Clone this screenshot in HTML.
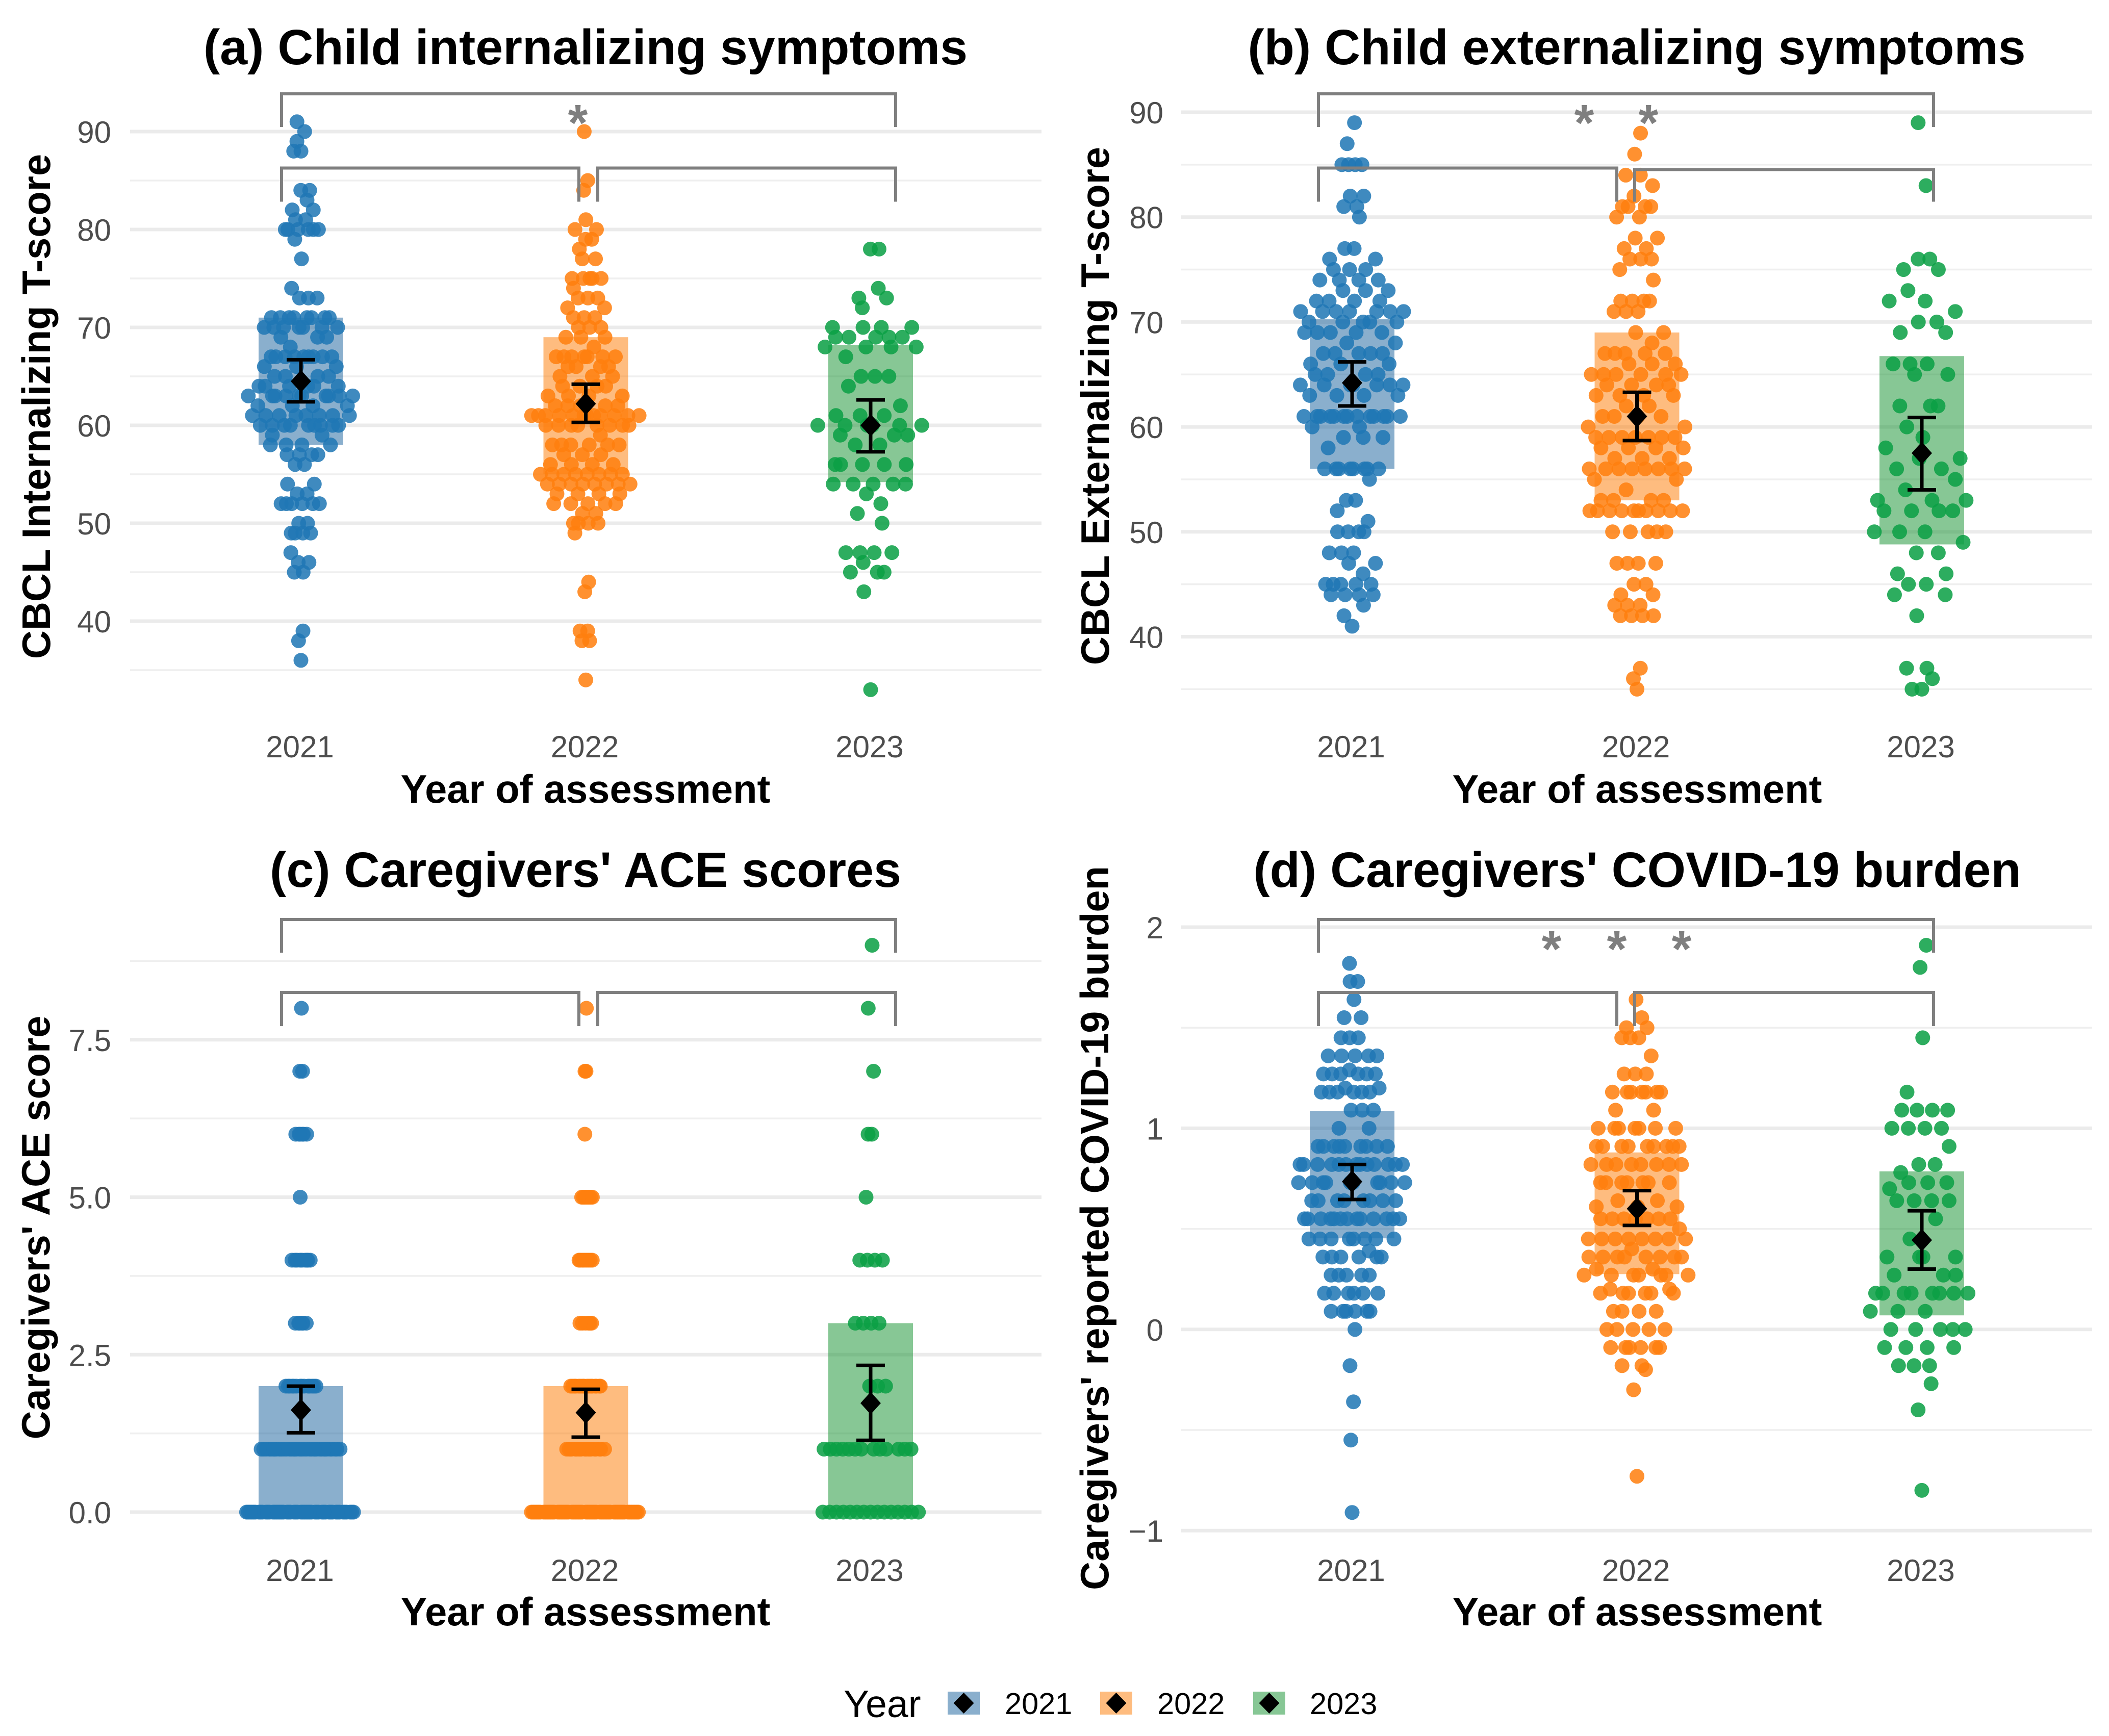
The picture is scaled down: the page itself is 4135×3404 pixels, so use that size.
<!DOCTYPE html>
<html lang="en">
<head>
<meta charset="utf-8">
<title>Child symptoms and caregiver burden by year</title>
<style>
html,body{margin:0;padding:0;background:#fff}
svg{display:block}
text{font-family:"Liberation Sans",Arial,sans-serif}
.title{font-size:97px;font-weight:700;fill:#000;text-anchor:middle}
.axt{font-size:77.6px;font-weight:700;fill:#000;text-anchor:middle}
.tick{font-size:60px;fill:#4d4d4d}
.leg{font-size:59.5px;fill:#000}
</style>
</head>
<body>
<svg id="figure" xmlns="http://www.w3.org/2000/svg" width="4135" height="3404" viewBox="0 0 4135 3404">
  <rect x="0" y="0" width="4135" height="3404" fill="#ffffff"/>
  <g id="panel-a"></g>
  <g id="panel-b"></g>
  <g id="panel-c"></g>
  <g id="panel-d"></g>

  <text class="title" x="1148" y="126">(a) Child internalizing symptoms</text>
  <text class="title" x="3209" y="126">(b) Child externalizing symptoms</text>
  <text class="title" x="1148" y="1739">(c) Caregivers' ACE scores</text>
  <text class="title" x="3210" y="1739">(d) Caregivers' COVID-19 burden</text>

  <text class="axt" x="1148" y="1574">Year of assessment</text>
  <text class="axt" x="3210" y="1574">Year of assessment</text>
  <text class="axt" x="1148" y="3187">Year of assessment</text>
  <text class="axt" x="3210" y="3187">Year of assessment</text>

  <text class="axt" transform="translate(98 797) rotate(-90)">CBCL Internalizing T-score</text>
  <text class="axt" transform="translate(2174 796) rotate(-90)">CBCL Externalizing T-score</text>
  <text class="axt" transform="translate(97 2407) rotate(-90)">Caregivers' ACE score</text>
  <text class="axt" transform="translate(2173 2408) rotate(-90)">Caregivers' reported COVID-19 burden</text>

  <g>
    <text x="1654" y="3367" font-size="75" fill="#000">Year</text>
    <g>
      <rect x="1858" y="3317" width="63" height="45" fill="#155f9b" fill-opacity="0.5"/>
      <polygon points="1889.5,3319 1909.5,3339.5 1889.5,3360 1869.5,3339.5" fill="#000"/>
      <text class="leg" x="1970" y="3361">2021</text>
    </g>
    <g>
      <rect x="2157" y="3317" width="63" height="45" fill="#fd7900" fill-opacity="0.5"/>
      <polygon points="2188.5,3319 2208.5,3339.5 2188.5,3360 2168.5,3339.5" fill="#000"/>
      <text class="leg" x="2269" y="3361">2022</text>
    </g>
    <g>
      <rect x="2457" y="3317" width="63" height="45" fill="#0f8f2b" fill-opacity="0.5"/>
      <polygon points="2488.5,3319 2508.5,3339.5 2488.5,3360 2468.5,3339.5" fill="#000"/>
      <text class="leg" x="2568" y="3361">2023</text>
    </g>
  </g>
</svg>
<script>
// ---------- shared categories ----------
const years = ['2021', '2022', '2023'];

// ---------- panel (a): value levels and how many children sit at each level ----------
const aValues2021 = [91,90,89,88,84,83,82,81,80,79,77,74,73,71,70,69,68,67,66,65,64,63,62,61,60,59,58,57,56,54,53,52,50,49,47,46,45,39,38,36];
const aCounts2021 = [ 1, 1, 1, 2, 2, 1, 2, 2, 6, 1, 1, 1, 3, 8, 7, 3, 1, 9, 3, 4, 6,10, 4, 8, 9, 2, 4, 4, 2, 2, 2, 6, 2, 4, 1, 2, 2, 1, 1, 1];
const aValues2022 = [90,85,84,81,80,79,78,77,75,74,73,72,71,70,69,68,67,66,65,64,63,62,61,60,59,58,57,56,55,54,53,52,51,50,49,44,43,39,38,34];
const aCounts2022 = [ 1, 1, 1, 1, 2, 2, 1, 2, 5, 1, 3, 2, 3, 3, 3, 1, 7, 4, 3, 4, 4, 5,12, 8, 1, 6, 3, 4, 8, 8, 4, 5, 2, 4, 1, 1, 1, 2, 2, 1];
const aValues2023 = [78,74,73,72,70,69,68,67,65,64,62,61,60,59,58,56,54,53,52,51,50,47,46,45,43,33];
const aCounts2023 = [ 2, 1, 2, 1, 4, 5, 4, 1, 3, 1, 1, 3, 6, 3, 2, 5, 5, 1, 1, 1, 1, 4, 1, 3, 1, 1];
const aQ1 = [58, 55, 54.2];
const aQ3 = [71, 69, 68.2];
const aMean = [64.5, 62.2, 60];
const aLow = [62.4, 60.3, 57.3];
const aHigh = [66.7, 64.2, 62.6];
const aMajor = [40, 50, 60, 70, 80, 90];
const aMinor = [35, 45, 55, 65, 75, 85];
const aTickLabels = ['40', '50', '60', '70', '80', '90'];

// ---------- panel (b) ----------
const bValues2021 = [89,87,85,82,81,80,77,76,75,74,73,72,71,70,69,68,67,66,65,64,63,61,60,59,58,56,55,53,52,51,50,48,47,46,45,44,43,42,41];
const bCounts2021 = [ 1, 1, 4, 2, 2, 1, 2, 2, 3, 4, 3, 4, 7, 5, 5, 2, 5, 3, 4, 7, 4,13, 2, 3, 1, 8, 1, 2, 1, 1, 4, 3, 2, 1, 5, 4, 1, 1, 1];
const bValues2022 = [88,86,84,83,82,81,80,78,77,76,75,74,72,71,69,68,67,66,65,64,63,62,61,60,59,58,57,56,55,54,53,52,50,47,45,44,43,42,37,36,35];
const bCounts2022 = [ 1, 1, 2, 1, 1, 4, 2, 2, 2, 3, 1, 1, 4, 3, 2, 1, 5, 3, 6, 4, 4, 2, 4, 2, 7, 4, 3, 8, 2, 1, 4,10, 5, 4, 2, 2, 3, 4, 1, 1, 1];
const bValues2023 = [89,83,76,75,73,72,71,70,69,66,65,62,60,59,58,57,56,55,54,53,52,50,49,48,46,45,44,42,37,36,35];
const bCounts2023 = [ 1, 1, 2, 2, 1, 2, 1, 2, 2, 3, 2, 3, 1, 1, 1, 2, 2, 1, 1, 3, 4, 3, 1, 2, 2, 2, 2, 1, 2, 1, 2];
const bQ1 = [56, 53, 48.8];
const bQ3 = [70.3, 69, 66.75];
const bMean = [64.2, 61, 57.5];
const bLow = [62, 58.7, 54];
const bHigh = [66.2, 63.3, 60.9];
const bMajor = [40, 50, 60, 70, 80, 90];
const bMinor = [35, 45, 55, 65, 75, 85];
const bTickLabels = ['40', '50', '60', '70', '80', '90'];

// ---------- panel (c) ----------
const cValues2021 = [ 8, 7, 6, 5, 4, 3, 2, 1, 0];
const cCounts2021 = [ 1, 2, 6, 1, 9, 6,14,36,50];
const cValues2022 = [ 8, 7, 6, 5, 4, 3, 2, 1, 0];
const cCounts2022 = [ 1, 2, 1, 7, 8, 6,16,19,55];
const cValues2023 = [ 9, 8, 7, 6, 5, 4, 3, 2, 1, 0];
const cCounts2023 = [ 1, 1, 1, 2, 1, 4, 4, 3,13,15];
const cQ1 = [0, 0, 0];
const cQ3 = [2, 2, 3];
const cMean = [1.62, 1.58, 1.73];
const cLow = [1.26, 1.19, 1.14];
const cHigh = [2, 1.95, 2.33];
const cMajor = [0, 2.5, 5, 7.5];
const cMinor = [1.25, 3.75, 6.25, 8.75];
const cTickLabels = ['0.0', '2.5', '5.0', '7.5'];

// ---------- panel (d) ----------
const dValues2021 = [1.82,1.73,1.64,1.55,1.45,1.36,1.29,1.27,1.2,1.18,1.09,1.0,0.91,0.82,0.73,0.64,0.55,0.45,0.39,0.36,0.27,0.18,0.09,0,-0.18,-0.36,-0.55,-0.91];
const dCounts2021 = [   1,   2,   1,   2,   3,   5,   1,   6,  2,   6,   3,  2,   9,  13,  10,   8,  13,   8,   1,   6,   5,   6,   6,1,    1,    1,    1,    1];
const dValues2022 = [1.64,1.55,1.5,1.45,1.36,1.27,1.18,1.09,1.0,0.91,0.82,0.73,0.64,0.61,0.55,0.5,0.45,0.4,0.36,0.3,0.27,0.2,0.18,0.09,0,-0.09,-0.18,-0.2,-0.3,-0.73];
const dCounts2022 = [   1,   1,  2,   3,   1,   3,   7,   2,  7,   9,   8,   7,   2,   3,   7,  1,   8,  1,   8,  2,   7,  2,   6,   4,5,    6,    2,   1,   1,    1];
const dValues2023 = [1.91,1.8,1.45,1.18,1.09,1.0,0.91,0.82,0.78,0.73,0.7,0.64,0.55,0.45,0.36,0.27,0.18,0.09,0,-0.09,-0.18,-0.27,-0.4,-0.8];
const dCounts2023 = [   1,  1,   1,   1,   4,  4,   1,   2,   1,   3,  1,   4,   1,   1,   4,   3,   8,   3,5,    4,    3,    1,   1,   1];
const dQ1 = [0.453, 0.275, 0.07];
const dQ3 = [1.087, 0.88, 0.786];
const dMean = [0.735, 0.6, 0.444];
const dLow = [0.646, 0.517, 0.3];
const dHigh = [0.82, 0.69, 0.59];
const dMajor = [-1, 0, 1, 2];
const dMinor = [-0.5, 0.5, 1.5];
const dTickLabels = ['\u22121', '0', '1', '2'];

// ---------- styling ----------
const dotColors = ['#1f77b4', '#ff7f0e', '#0a9f45'];
const boxColors = ['#155f9b', '#fd7900', '#0f8f2b'];
const SVGNS = 'http://www.w3.org/2000/svg';

function mk(tag, attrs, parent) {
  const el = document.createElementNS(SVGNS, tag);
  for (const k in attrs) el.setAttribute(k, attrs[k]);
  parent.appendChild(el);
  return el;
}

function expand(values, counts) {
  const out = [];
  values.forEach(function (v, i) { for (let n = 0; n < counts[i]; n++) out.push(v); });
  return out.sort(function (p, q) { return p - q; });
}

function vanDerCorput(i) {
  let f = 0.5, r = 0;
  while (i > 0) { r += f * (i % 2); i = Math.floor(i / 2); f /= 2; }
  return r;
}

function quantile(sorted, p) {
  const h = (sorted.length - 1) * p, lo = Math.floor(h), hi = Math.ceil(h);
  return sorted[lo] + (sorted[hi] - sorted[lo]) * (h - lo);
}

// Quasirandom offsets: van der Corput rank x normalised kernel density
function quasiOffsets(sorted, halfWidth) {
  const n = sorted.length;
  const mean = sorted.reduce(function (s, v) { return s + v; }, 0) / n;
  const sd = Math.sqrt(sorted.reduce(function (s, v) { return s + (v - mean) * (v - mean); }, 0) / (n - 1));
  const iqr = quantile(sorted, 0.75) - quantile(sorted, 0.25);
  const spread = iqr > 0 ? Math.min(sd, iqr / 1.34) : sd;
  const bw = 0.5 * 0.9 * spread * Math.pow(n, -0.2);
  const dens = function (y) {
    let s = 0;
    for (let j = 0; j < n; j++) { const z = (y - sorted[j]) / bw; s += Math.exp(-0.5 * z * z); }
    return s;
  };
  const lo = sorted[0] - 3 * bw, hi = sorted[n - 1] + 3 * bw;
  let peak = 0;
  for (let g = 0; g <= 600; g++) peak = Math.max(peak, dens(lo + (hi - lo) * g / 600));
  return sorted.map(function (y, i) {
    return (vanDerCorput(i + 1) - 0.5) * 2 * (dens(y) / peak) * halfWidth;
  });
}

function drawBracket(g, x1, x2, top, bottom) {
  const p = mk('path', {
    d: 'M' + x1 + ' ' + bottom + 'V' + top + 'H' + x2 + 'V' + bottom,
    fill: 'none', stroke: '#7f7f7f', 'stroke-width': 6
  }, g);
  
  
}

function drawPanel(cfg) {
  const g = document.getElementById(cfg.id);
  const xScale = function (i) { return cfg.x0 + i * 558.5; };
  const yScale = function (v) { return cfg.yRef + (cfg.vRef - v) * cfg.pxPerUnit; };

  cfg.minor.forEach(function (v) {
    const el = mk('line', { x1: cfg.gridL, x2: cfg.gridR, y1: yScale(v), y2: yScale(v), stroke: '#efefef', 'stroke-width': 3.5 }, g);
    
    
  });
  cfg.major.forEach(function (v, i) {
    const el = mk('line', { x1: cfg.gridL, x2: cfg.gridR, y1: yScale(v), y2: yScale(v), stroke: '#ebebeb', 'stroke-width': 7 }, g);
    
    
    const t = mk('text', { x: cfg.tickX, y: yScale(v) + 22, 'text-anchor': 'end', class: 'tick' }, g);
    t.textContent = cfg.tickLabels[i];
    
    
  });
  years.forEach(function (yr, i) {
    const t = mk('text', { x: xScale(i) - 2, y: cfg.xTickY, 'text-anchor': 'middle', class: 'tick' }, g);
    t.textContent = yr;
    
    
  });

  years.forEach(function (yr, i) {
    const cx = xScale(i);
    const box = mk('rect', {
      x: cx - 83, width: 166, y: yScale(cfg.q3[i]),
      height: yScale(cfg.q1[i]) - yScale(cfg.q3[i]),
      fill: boxColors[i], 'fill-opacity': 0.5
    }, g);
    
    

    const vals = expand(cfg.values[i], cfg.counts[i]);
    const off = quasiOffsets(vals, cfg.halfWidth);
    vals.forEach(function (v, k) {
      const c = mk('circle', { cx: cx + off[k], cy: yScale(v), r: 14.5, fill: dotColors[i], 'fill-opacity': 0.86 }, g);
      
      
    });
  });

  years.forEach(function (yr, i) {
    const cx = xScale(i);
    const lo = yScale(cfg.low[i]), hi = yScale(cfg.high[i]), my = yScale(cfg.mean[i]);
    const bar = mk('path', {
      d: 'M' + (cx - 28) + ' ' + hi + 'H' + (cx + 28) + 'M' + cx + ' ' + hi + 'V' + lo + 'M' + (cx - 28) + ' ' + lo + 'H' + (cx + 28),
      fill: 'none', stroke: '#000', 'stroke-width': 7
    }, g);
    
    
    const dia = mk('polygon', {
      points: cx + ',' + (my - 22) + ' ' + (cx + 20) + ',' + my + ' ' + cx + ',' + (my + 22) + ' ' + (cx - 20) + ',' + my,
      fill: '#000'
    }, g);
    
    
  });

  drawBracket(g, cfg.bL, cfg.bR, cfg.bTop, cfg.bTop + 65);
  drawBracket(g, cfg.bL, cfg.bM1, cfg.bLow, cfg.bLow + 66);
  drawBracket(g, cfg.bM2, cfg.bR, cfg.bLow + cfg.bNudge, cfg.bLow + 66);

  cfg.stars.forEach(function (sx) {
    const s = mk('text', { x: sx, y: cfg.starY + 57, 'text-anchor': 'middle', 'font-size': 100, 'font-weight': 700, fill: '#7f7f7f' }, g);
    s.textContent = '*';
    
    
  });
}

const layoutLeftTop = { x0: 590, gridL: 255, gridR: 2042, tickX: 218, xTickY: 1485, bL: 552, bM1: 1135, bM2: 1172, bR: 1756, bTop: 184, bLow: 329.5, bNudge: 0 };
const layoutRightTop = { x0: 2651, gridL: 2316, gridR: 4102, tickX: 2281, xTickY: 1485, bL: 2585, bM1: 3170, bM2: 3205, bR: 3791, bTop: 184, bLow: 329.5, bNudge: 3 };
const layoutLeftBottom = { x0: 590, gridL: 255, gridR: 2042, tickX: 218, xTickY: 3100, bL: 552, bM1: 1135, bM2: 1172, bR: 1756, bTop: 1803, bLow: 1946, bNudge: 0 };
const layoutRightBottom = { x0: 2651, gridL: 2316, gridR: 4102, tickX: 2281, xTickY: 3100, bL: 2585, bM1: 3170, bM2: 3205, bR: 3791, bTop: 1803, bLow: 1946, bNudge: 0 };

drawPanel(Object.assign({}, layoutLeftTop, {
  id: 'panel-a', yRef: 258, vRef: 90, pxPerUnit: 19.2, halfWidth: 108,
  values: [aValues2021, aValues2022, aValues2023], counts: [aCounts2021, aCounts2022, aCounts2023],
  q1: aQ1, q3: aQ3, mean: aMean, low: aLow, high: aHigh,
  major: aMajor, minor: aMinor, tickLabels: aTickLabels, stars: [1133], starY: 218
}));
drawPanel(Object.assign({}, layoutRightTop, {
  id: 'panel-b', yRef: 220, vRef: 90, pxPerUnit: 20.57, halfWidth: 108,
  values: [bValues2021, bValues2022, bValues2023], counts: [bCounts2021, bCounts2022, bCounts2023],
  q1: bQ1, q3: bQ3, mean: bMean, low: bLow, high: bHigh,
  major: bMajor, minor: bMinor, tickLabels: bTickLabels, stars: [3106, 3232], starY: 218
}));
drawPanel(Object.assign({}, layoutLeftBottom, {
  id: 'panel-c', yRef: 2965, vRef: 0, pxPerUnit: 123.5, halfWidth: 110,
  values: [cValues2021, cValues2022, cValues2023], counts: [cCounts2021, cCounts2022, cCounts2023],
  q1: cQ1, q3: cQ3, mean: cMean, low: cLow, high: cHigh,
  major: cMajor, minor: cMinor, tickLabels: cTickLabels, stars: [], starY: 0
}));
drawPanel(Object.assign({}, layoutRightBottom, {
  id: 'panel-d', yRef: 1818, vRef: 2, pxPerUnit: 394.4, halfWidth: 112,
  values: [dValues2021, dValues2022, dValues2023], counts: [dCounts2021, dCounts2022, dCounts2023],
  q1: dQ1, q3: dQ3, mean: dMean, low: dLow, high: dHigh,
  major: dMajor, minor: dMinor, tickLabels: dTickLabels, stars: [3042, 3170, 3297], starY: 1838
}));
</script>
</body>
</html>
